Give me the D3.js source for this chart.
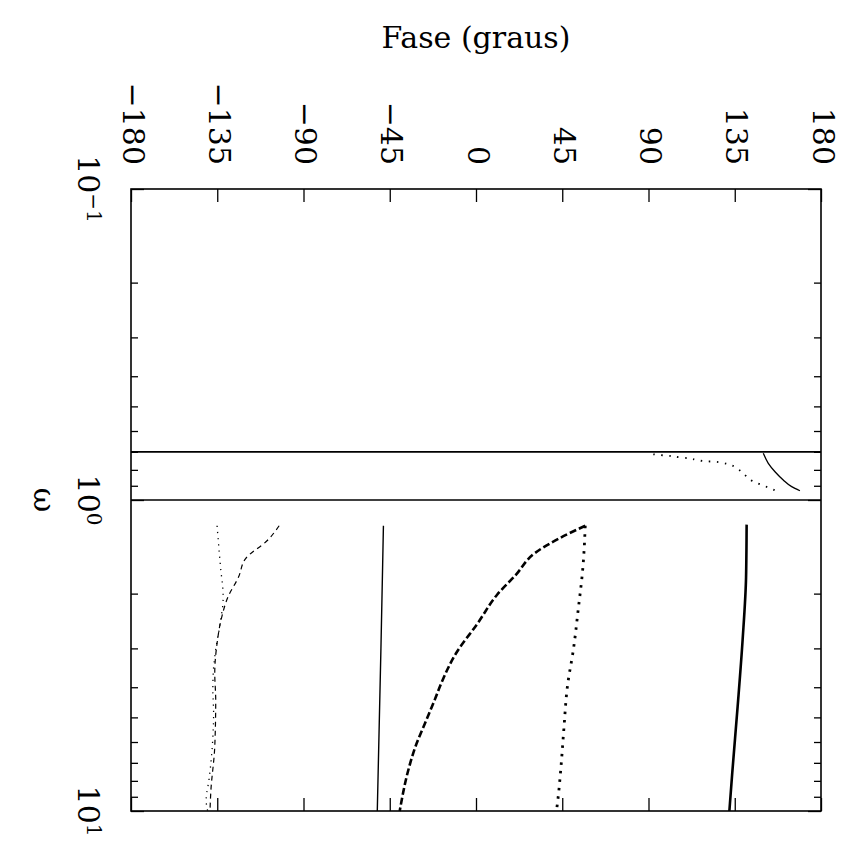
<!DOCTYPE html>
<html>
<head>
<meta charset="utf-8">
<script src="https://cdn.jsdelivr.net/npm/d3@7"></script>
<style>
  body { margin: 0; background: #fff; }
  svg { display: block; }
  text { font-family: "DejaVu Serif", "Liberation Serif", serif; fill: #000; }
</style>
</head>
<body>
<div id="chart"></div>
<script>
// axis ticks
const phaseTicks = [-180, -135, -90, -45, 0, 45, 90, 135, 180];
const omegaMajor = [0.1, 1, 10];
const omegaMinor = [0.2, 0.3, 0.4, 0.5, 0.6, 0.7, 0.8, 0.9, 2, 3, 4, 5, 6, 7, 8, 9];
const omegaLabels = [{ w: 0.1, exp: "\u22121" }, { w: 1, exp: "0" }, { w: 10, exp: "1" }];

// vertical marks (omega values)
const markW = [0.7, 1.0];

// curves inside the 0.7..1 band
const bandDotW = [0.713, 0.718, 0.722, 0.729, 0.734, 0.744, 0.751, 0.753, 0.760, 0.772, 0.797, 0.831, 0.869, 0.890, 0.910, 0.934];
const bandDotP = [92.5, 97.2, 101.6, 106.1, 110.8, 115.5, 120, 124.3, 128.7, 132.9, 136.9, 140.3, 144.2, 148.2, 152.2, 156.5];
const bandSolidW = [0.708, 0.762, 0.811, 0.862, 0.906, 0.934];
const bandSolidP = [149.9, 152.5, 156, 160.3, 164.7, 169];

// curves for omega > 1
const thickSolidW = [1.2, 1.77, 2.82, 4.62, 7.54, 10];
const thickSolidP = [141.2, 140.9, 139.1, 136.5, 133.7, 132.2];
const thinSolidW = [1.21, 3, 10];
const thinSolidP = [-48.3, -49.6, -51.5];
const boldDashW = [1.21, 1.33, 1.48, 1.74, 2.02, 2.49, 3.11, 3.84, 4.4, 5.22, 6.21, 7.38, 10];
const boldDashP = [57.0, 43.3, 30.8, 20.8, 10.9, 0.9, -10.4, -17.8, -21.6, -26.6, -31.6, -35.3, -39.8];
const boldDotW = [1.21, 1.64, 2.26, 3.03, 3.93, 5.49, 7.01, 9.1, 10];
const boldDotP = [57.0, 55.8, 53.3, 50.8, 47.8, 45.8, 44.5, 42.8, 42];
const thinDotW = [1.21, 1.64, 2.05, 2.56, 3.03, 3.61, 4.08, 4.85, 6.21, 7.93, 9.22, 10];
const thinDotP = [-135.1, -133.3, -131.9, -133.8, -135.8, -137.1, -137.3, -136.9, -137.6, -139.3, -140.8, -140];
const thinDashW = [1.21, 1.35, 1.54, 1.77, 2.05, 2.37, 2.89, 3.61, 4.4, 6.21, 8.56, 10];
const thinDashP = [-102.7, -108.9, -120.1, -123.9, -129.4, -132.6, -135.1, -136.3, -135.8, -136.3, -138.3, -138.8];

const width = 850;
const height = 852;
const margin = { top: 189, right: 29, bottom: 41, left: 131 };

const svg = d3.select("#chart").append("svg")
  .attr("width", width)
  .attr("height", height);

// phase runs left -> right, omega runs top -> bottom (rotated bode plot)
const x = d3.scaleLinear()
  .domain([-180, 180])
  .range([margin.left, width - margin.right]);

const y = d3.scaleLog()
  .domain([0.1, 10])
  .range([margin.top, height - margin.bottom]);

// ticks, all pointing inwards
svg.append("g")
  .attr("transform", `translate(0,${margin.top})`)
  .call(d3.axisTop(x).tickValues(phaseTicks).tickSizeInner(-13).tickSizeOuter(0).tickFormat(""));
svg.append("g")
  .attr("transform", `translate(0,${height - margin.bottom})`)
  .call(d3.axisBottom(x).tickValues(phaseTicks).tickSizeInner(-13).tickSizeOuter(0).tickFormat(""));
svg.append("g")
  .attr("transform", `translate(${margin.left},0)`)
  .call(d3.axisLeft(y).tickValues(omegaMinor).tickSizeInner(-7).tickSizeOuter(0).tickFormat(""));
svg.append("g")
  .attr("transform", `translate(${margin.left},0)`)
  .call(d3.axisLeft(y).tickValues(omegaMajor).tickSizeInner(-13).tickSizeOuter(0).tickFormat(""));
svg.append("g")
  .attr("transform", `translate(${width - margin.right},0)`)
  .call(d3.axisRight(y).tickValues(omegaMinor).tickSizeInner(-7).tickSizeOuter(0).tickFormat(""));
svg.append("g")
  .attr("transform", `translate(${width - margin.right},0)`)
  .call(d3.axisRight(y).tickValues(omegaMajor).tickSizeInner(-13).tickSizeOuter(0).tickFormat(""));
svg.selectAll(".domain").remove();
svg.selectAll(".tick line").attr("stroke", "#000").attr("stroke-width", 1.3);

// frame
svg.append("rect")
  .attr("x", x(-180))
  .attr("y", y(0.1))
  .attr("width", x(180) - x(-180))
  .attr("height", y(10) - y(0.1))
  .attr("fill", "none")
  .attr("stroke", "#000")
  .attr("stroke-width", 1.6);

// marks at omega = 0.7 and 1
svg.selectAll(".mark")
  .data(markW)
  .enter()
  .append("line")
  .attr("x1", x(-180))
  .attr("x2", x(180))
  .attr("y1", d => y(d))
  .attr("y2", d => y(d))
  .attr("stroke", "#000")
  .attr("stroke-width", 1.6);

const line = d3.line()
  .x(d => x(d[1]))
  .y(d => y(d[0]))
  .curve(d3.curveMonotoneY);

const series = [
  { w: bandSolidW, p: bandSolidP, sw: 1.3, dash: null },
  { w: bandDotW, p: bandDotP, sw: 1.8, dash: "1.5,6.5" },
  { w: thickSolidW, p: thickSolidP, sw: 2.6, dash: null },
  { w: thinSolidW, p: thinSolidP, sw: 1.4, dash: null },
  { w: boldDashW, p: boldDashP, sw: 2.6, dash: "7,3" },
  { w: boldDotW, p: boldDotP, sw: 2.8, dash: "2.5,6" },
  { w: thinDotW, p: thinDotP, sw: 1.3, dash: "1.2,5" },
  { w: thinDashW, p: thinDashP, sw: 1.2, dash: "5,4" }
];

svg.selectAll(".curve")
  .data(series)
  .enter()
  .append("path")
  .attr("class", "curve")
  .attr("d", s => line(s.w.map((w, i) => [w, s.p[i]])))
  .attr("fill", "none")
  .attr("stroke", "#000")
  .attr("stroke-width", s => s.sw)
  .attr("stroke-dasharray", s => s.dash);

// phase tick labels, written downwards
svg.selectAll(".plabel")
  .data(phaseTicks)
  .enter()
  .append("text")
  .attr("class", "plabel")
  .attr("transform", d => `translate(${x(d) + 2},165) rotate(90)`)
  .attr("text-anchor", "end")
  .attr("dominant-baseline", "central")
  .style("font-size", "30px")
  .text(d => d < 0 ? "\u2212" + Math.abs(d) : d);

// omega tick labels
const wl = svg.selectAll(".wlabel")
  .data(omegaLabels)
  .enter()
  .append("text")
  .attr("class", "wlabel")
  .attr("transform", d => `translate(78,${y(d.w)}) rotate(90)`)
  .attr("text-anchor", "middle")
  .style("font-size", "30px");
wl.append("tspan").text("10");
wl.append("tspan")
  .attr("dy", "-0.45em")
  .style("font-size", "20px")
  .text(d => d.exp);

// axis titles
svg.append("text")
  .attr("transform", `translate(34,${y(1)}) rotate(90)`)
  .attr("text-anchor", "middle")
  .style("font-size", "30px")
  .text("\u03c9");

svg.append("text")
  .attr("x", x(0))
  .attr("y", 48)
  .attr("text-anchor", "middle")
  .style("font-size", "30px")
  .text("Fase (graus)");
</script>
</body>
</html>
